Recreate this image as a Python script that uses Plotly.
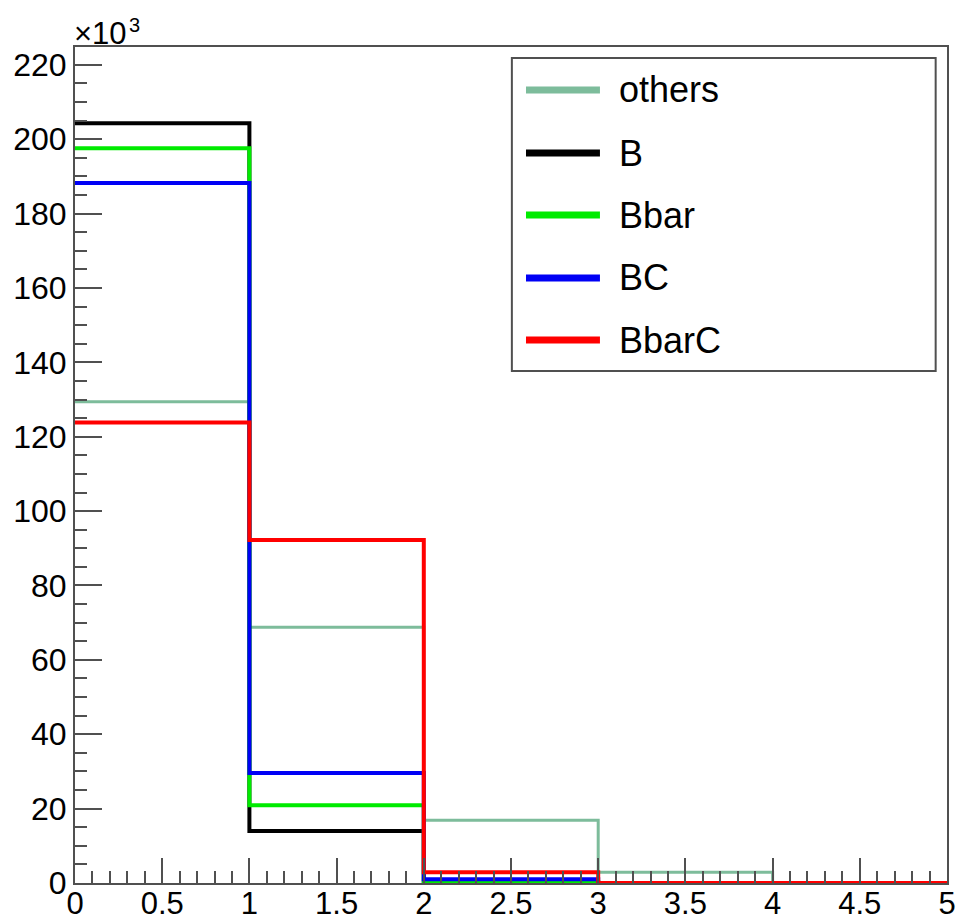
import plotly.graph_objects as go

# ---- data (counts in units of 10^3) ----
bin_edges = [0, 1, 2, 3, 4, 5]
series_names = ["others", "B", "Bbar", "BC", "BbarC"]
others = [129.4, 68.8, 16.9, 2.9, 0.0]
B = [204.3, 14.0, 0.0, 0.0, 0.0]
Bbar = [197.6, 20.9, 0.3, 0.0, 0.0]
BC = [188.2, 29.6, 1.0, 0.0, 0.0]
BbarC = [123.8, 92.2, 2.9, 0.0, 0.0]
x_ticks = [0, 0.5, 1, 1.5, 2, 2.5, 3, 3.5, 4, 4.5, 5]
x_tick_labels = ["0", "0.5", "1", "1.5", "2", "2.5", "3", "3.5", "4", "4.5", "5"]
y_ticks = [0, 20, 40, 60, 80, 100, 120, 140, 160, 180, 200, 220]

series_values = [others, B, Bbar, BC, BbarC]
colors = ["rgb(125,188,155)", "black", "rgb(0,235,0)", "rgb(0,0,245)", "rgb(255,0,0)"]
widths = [3, 4, 4, 4, 4]

FONT = "Liberation Sans, Arial, Helvetica, sans-serif"
AX = "rgb(80,80,80)"

fig = go.Figure()
for name, vals, c, w in zip(series_names, series_values, colors, widths):
    # step outline: start at top of first bin, end with drop at last edge
    xs = list(bin_edges[:-1]) + [bin_edges[-1], bin_edges[-1]]
    ys = list(vals) + [vals[-1], 0]
    fig.add_trace(go.Scatter(x=xs, y=ys, mode="lines", name=name,
                             line=dict(color=c, width=w, shape="hv"),
                             showlegend=False, hoverinfo="skip"))

fig.update_layout(
    width=960, height=920,
    margin=dict(l=75, r=13, t=47, b=37),
    paper_bgcolor="white", plot_bgcolor="white",
    font=dict(family=FONT, color="black", size=32),
    showlegend=False,
)
fig.update_xaxes(
    range=[0, 5], showgrid=False, zeroline=False, automargin=False,
    showline=True, linecolor=AX, linewidth=2, mirror=True,
    tickmode="array", tickvals=x_ticks, ticktext=x_tick_labels,
    ticks="inside", ticklen=25, tickwidth=2, tickcolor=AX,
    minor=dict(ticks="inside", ticklen=12, tickwidth=2, tickcolor=AX, dtick=0.1, showgrid=False),
    tickfont=dict(size=31, family=FONT), ticklabelstandoff=-8,
)
fig.update_yaxes(
    range=[0, 224.8], showgrid=False, zeroline=False, automargin=False,
    showline=True, linecolor=AX, linewidth=2, mirror=True,
    tickmode="array", tickvals=y_ticks,
    ticks="inside", ticklen=27, tickwidth=2, tickcolor=AX,
    minor=dict(ticks="inside", ticklen=12, tickwidth=2, tickcolor=AX, dtick=5, tick0=0, showgrid=False),
    tickfont=dict(size=32, family=FONT),
)

# exponent label
fig.add_annotation(x=0, y=1, xref="paper", yref="paper", xanchor="left", yanchor="bottom",
                   text="×10", showarrow=False, yshift=-6, xshift=-3,
                   font=dict(size=31, family=FONT, color="black"))
fig.add_annotation(x=0, y=1, xref="paper", yref="paper", xanchor="left", yanchor="bottom",
                   text="3", showarrow=False, yshift=9, xshift=52,
                   font=dict(size=20, family=FONT, color="black"))

# manual legend (ROOT TLegend style)
lx0, lx1, ly0, ly1 = 0.501, 0.987, 0.6124, 0.9868
fig.add_shape(type="rect", xref="paper", yref="paper", x0=lx0, x1=lx1, y0=ly0, y1=ly1,
              line=dict(color=AX, width=2), fillcolor="white", layer="above")
entry_y = [0.9486, 0.8732, 0.7990, 0.7237, 0.6495]
for name, c, yy in zip(series_names, colors, entry_y):
    fig.add_shape(type="line", xref="paper", yref="paper", x0=0.5172, x1=0.602, y0=yy, y1=yy,
                  line=dict(color=c, width=7), layer="above")
    fig.add_annotation(x=0.6216, y=yy, xref="paper", yref="paper", xanchor="left", yanchor="middle",
                       text=name, showarrow=False, font=dict(size=36, family=FONT, color="black"))

fig.write_html("out.html")
